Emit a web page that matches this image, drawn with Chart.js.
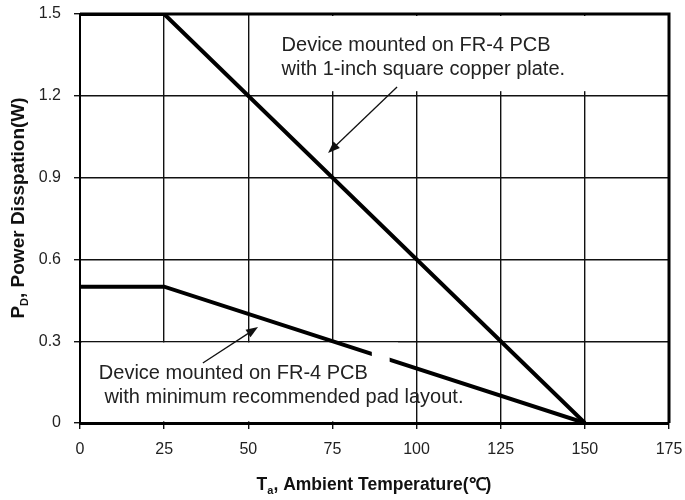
<!DOCTYPE html>
<html>
<head>
<meta charset="utf-8">
<script src="https://cdn.jsdelivr.net/npm/chart.js@4.4.0/dist/chart.umd.min.js"></script>
<style>
  html, body { margin: 0; padding: 0; background: #fff; }
  #wrap { width: 685px; height: 500px; }
</style>
</head>
<body>
<div id="wrap"><canvas id="derating" width="685" height="500"></canvas></div>
<script>
// ambient temperature (C) / power dissipation (W)
let tempCopper = [0, 25, 150];
let powerCopper = [1.5, 1.5, 0];
let tempMinPad = [0, 25, 150];
let powerMinPad = [0.5, 0.5, 0];
let xTicks = [0, 25, 50, 75, 100, 125, 150, 175];
let yTicks = ["0", "0.3", "0.6", "0.9", "1.2", "1.5"];

let noteCopper = ["Device mounted on FR-4 PCB", "with 1-inch square copper plate."];
let noteMinPad = ["Device mounted on FR-4 PCB", " with minimum recommended pad layout."];

const toPoints = (xs, ys) => xs.map((x, i) => ({ x: x, y: ys[i] }));

const font = "'Liberation Sans', Arial, sans-serif";

// white boxes behind the notes, arrows, notes and axis titles
const notes = {
  id: "notes",
  beforeDatasetsDraw(chart) {
    const c = chart.ctx, xs = chart.scales.x, ys = chart.scales.y;
    c.save();
    c.fillStyle = "#fff";
    // top note box
    let l = xs.getPixelForValue(52), r = xs.getPixelForValue(175);
    let t = ys.getPixelForValue(1.5), b = ys.getPixelForValue(1.217);
    c.fillRect(l, t + 2, r - l - 2, b - t - 2);
    // bottom note box
    l = xs.getPixelForValue(0.6); r = xs.getPixelForValue(94.5);
    t = ys.getPixelForValue(0.295); b = ys.getPixelForValue(0.006);
    c.fillRect(l, t, r - l, b - t);
    c.restore();
  },
  afterDatasetsDraw(chart) {
    const c = chart.ctx, xs = chart.scales.x, ys = chart.scales.y;
    c.save();
    // gap in the lower curve under the note
    c.fillStyle = "#fff";
    let l = xs.getPixelForValue(86.7), r = xs.getPixelForValue(92);
    c.fillRect(l, ys.getPixelForValue(0.28), r - l, ys.getPixelForValue(0.2) - ys.getPixelForValue(0.28));

    const arrow = (x1, y1, x2, y2) => {
      const ax = xs.getPixelForValue(x1), ay = ys.getPixelForValue(y1);
      const bx = xs.getPixelForValue(x2), by = ys.getPixelForValue(y2);
      const ang = Math.atan2(by - ay, bx - ax);
      c.strokeStyle = "#111";
      c.fillStyle = "#111";
      c.lineWidth = 1.3;
      c.beginPath();
      c.moveTo(ax, ay);
      c.lineTo(bx - 8 * Math.cos(ang), by - 8 * Math.sin(ang));
      c.stroke();
      c.beginPath();
      c.moveTo(bx, by);
      c.lineTo(bx - 12 * Math.cos(ang) + 4.5 * Math.sin(ang), by - 12 * Math.sin(ang) - 4.5 * Math.cos(ang));
      c.lineTo(bx - 12 * Math.cos(ang) - 4.5 * Math.sin(ang), by - 12 * Math.sin(ang) + 4.5 * Math.cos(ang));
      c.closePath();
      c.fill();
    };
    arrow(94.2, 1.232, 73.7, 0.99);
    arrow(36.5, 0.22, 52.9, 0.352);

    c.fillStyle = "#222";
    c.font = "20px " + font;
    c.textAlign = "left";
    c.textBaseline = "middle";
    c.fillText(noteCopper[0], xs.getPixelForValue(59.9), ys.getPixelForValue(1.386));
    c.fillText(noteCopper[1], xs.getPixelForValue(59.9), ys.getPixelForValue(1.295));
    c.fillText(noteMinPad[0], xs.getPixelForValue(5.6), ys.getPixelForValue(0.183));
    c.fillText(noteMinPad[1], xs.getPixelForValue(5.6), ys.getPixelForValue(0.095));

    // plot frame top/right
    const a = chart.chartArea;
    c.strokeStyle = "#000";
    c.lineWidth = 3;
    c.beginPath();
    c.moveTo(a.left, a.top);
    c.lineTo(a.right, a.top);
    c.lineTo(a.right, a.bottom);
    c.stroke();
    c.restore();
  },
  afterDraw(chart) {
    const c = chart.ctx;
    c.save();
    c.fillStyle = "#111";
    c.textBaseline = "alphabetic";
    c.textAlign = "left";
    const sub = (parts, x, y, size) => {
      // parts: [main, subscript, rest]
      const big = "bold " + size + "px " + font, small = "bold " + Math.round(size * 0.6) + "px " + font;
      c.font = big; const w1 = c.measureText(parts[0]).width, w3 = c.measureText(parts[2]).width;
      c.font = small; const w2 = c.measureText(parts[1]).width;
      let px = x - (w1 + w2 + w3) / 2;
      c.font = big; c.fillText(parts[0], px, y); px += w1;
      c.font = small; c.fillText(parts[1], px, y + size * 0.2); px += w2;
      c.font = big; c.fillText(parts[2], px, y);
    };
    sub(["T", "a", ", Ambient Temperature(\u2103)"], 374, 490, 17.5);
    c.translate(24, 208);
    c.rotate(-Math.PI / 2);
    sub(["P", "D", ", Power Disspation(W)"], 0, 0, 19);
    c.restore();
  }
};

const lineStyle = { borderColor: "#000", borderWidth: 4, pointRadius: 0, fill: false, tension: 0, borderCapStyle: "butt", borderJoinStyle: "miter" };

new Chart(document.getElementById("derating").getContext("2d"), {
  type: "scatter",
  data: {
    datasets: [
      Object.assign({ label: "1-inch copper", data: toPoints(tempCopper, powerCopper), showLine: true }, lineStyle),
      Object.assign({ label: "minimum pad", data: toPoints(tempMinPad, powerMinPad), showLine: true }, lineStyle)
    ]
  },
  options: {
    responsive: false,
    animation: false,
    events: [],
    layout: { padding: { left: 0, right: 16, top: 14, bottom: 0 } },
    plugins: { legend: { display: false }, tooltip: { enabled: false } },
    scales: {
      x: {
        type: "linear",
        min: xTicks[0],
        max: xTicks[xTicks.length - 1],
        afterBuildTicks: (s) => { s.ticks = xTicks.map((v) => ({ value: v })); },
        afterFit: (s) => { s.height = 77; s.paddingLeft = 0; s.paddingRight = 0; },
        ticks: { color: "#222", font: { family: font, size: 16 }, padding: 11, maxRotation: 0 },
        grid: { color: "#111", lineWidth: 1.4, tickLength: 6, drawOnChartArea: true },
        border: { color: "#000", width: 3 }
      },
      y: {
        type: "linear",
        min: 0,
        max: 1.5,
        afterBuildTicks: (s) => { s.ticks = yTicks.map((v) => ({ value: parseFloat(v) })); },
        afterFit: (s) => { s.width = 80; s.paddingTop = 0; s.paddingBottom = 0; },
        ticks: {
          color: "#222",
          font: { family: font, size: 16 },
          padding: 13,
          callback: (v, i) => yTicks[i]
        },
        grid: { color: "#111", lineWidth: 1.4, tickLength: 6 },
        border: { color: "#000", width: 2 }
      }
    }
  },
  plugins: [notes]
});
</script>
</body>
</html>
